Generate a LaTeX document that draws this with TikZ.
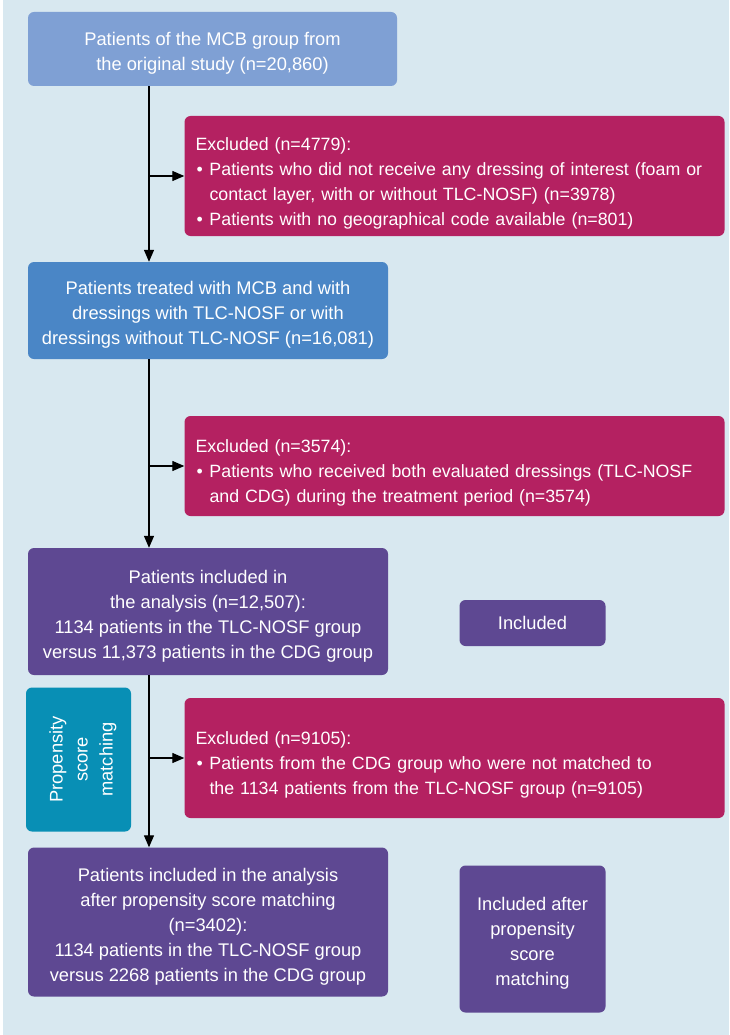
\documentclass[tikz,border=0pt]{standalone}
\usepackage{fontspec}
\setmainfont{Liberation Sans}
\usetikzlibrary{calc,shapes,arrows.meta}
\definecolor{PageBlue}{RGB}{216,232,240}
\definecolor{StartBlue}{RGB}{127,160,212}
\definecolor{MidBlue}{RGB}{74,134,198}
\definecolor{ExclRed}{RGB}{180,33,97}
\definecolor{InclPurple}{RGB}{94,72,146}
\definecolor{MatchTeal}{RGB}{8,143,181}
\newcommand{\bul}{\makebox[15pt][l]{\hspace{2pt}\textbullet}}
\newcommand{\topgap}[1]{\rule{0pt}{#1}}

\begin{document}
\begin{tikzpicture}[x=1pt,y=-1pt]
				\tikzstyle{box} = [rectangle, rounded corners=6pt, text=white, align=center, inner sep=0pt, font=\fontsize{18.3}{25}\selectfont]
				\tikzstyle{flow} = [box, minimum width=360pt]
				\tikzstyle{excluded} = [box, fill=ExclRed, align=left, text width=520pt, inner xsep=10pt, minimum width=539pt, font=\fontsize{17.8}{25}\selectfont]
				\tikzstyle{side} = [box, fill=InclPurple, minimum width=146pt]
				\tikzstyle{arrow} = [line width=1.3pt, -{Stealth[length=12pt,width=10pt,inset=0pt]}]
				
				\useasboundingbox (0,0) rectangle (729,1035);
				\fill[PageBlue] (3,0) rectangle (729,1035);
				
				\node (original) [flow, fill=StartBlue, minimum width=369pt, minimum height=74pt] at (212.5,49) {\topgap{22pt}Patients of the MCB group from\\the original study (n=20,860)};
				\node (exclone) [excluded, minimum height=120pt] at (454.5,176) {\topgap{27pt}\hspace*{1pt}Excluded (n=4779):\\\bul Patients who did not receive any dressing of interest (foam or\\\hspace*{15pt}contact layer, with or without TLC-NOSF) (n=3978)\\\bul Patients with no geographical code available (n=801)};
				\node (treated) [flow, fill=MidBlue, minimum height=97pt] at (208,310.5) {\topgap{22pt}Patients treated with MCB and with\\dressings with TLC-NOSF or with\\dressings without TLC-NOSF (n=16,081)};
				\node (excltwo) [excluded, minimum height=100pt] at (454.5,466) {\topgap{27pt}\hspace*{1pt}Excluded (n=3574):\\\bul Patients who received both evaluated dressings (TLC-NOSF\\\hspace*{15pt}and CDG) during the treatment period (n=3574)};
				\node (analysis) [flow, fill=InclPurple, minimum height=127pt] at (208,611.5) {\topgap{22pt}Patients included in\\the analysis (n=12,507):\\1134 patients in the TLC-NOSF group\\versus 11,373 patients in the CDG group};
				\node (included) [side, minimum height=46pt] at (532.5,623) {Included};
				\node (psm) [box, fill=MatchTeal, rotate=90, minimum width=144pt, minimum height=105pt] at (78.5,759.5) {\topgap{22pt}Propensity\\score\\matching};
				\node (exclthree) [excluded, minimum height=120pt] at (454.5,758) {\topgap{27pt}\hspace*{1pt}Excluded (n=9105):\\\bul Patients from the CDG group who were not matched to\\\hspace*{15pt}the 1134 patients from the TLC-NOSF group (n=9105)};
				\node (matched) [flow, fill=InclPurple, minimum height=149pt] at (208,922) {\topgap{22pt}Patients included in the analysis\\after propensity score matching\\(n=3402):\\1134 patients in the TLC-NOSF group\\versus 2268 patients in the CDG group};
				\node (includedpsm) [side, minimum height=147pt] at (532.5,939) {\topgap{22pt}Included after\\propensity\\score\\matching};
				
				\coordinate (spine) at (149,0);
				\draw [arrow] (original.south -| spine) -- (treated.north -| spine);
				\draw [arrow] (treated.south -| spine) -- (analysis.north -| spine);
				\draw [arrow] (analysis.south -| spine) -- (matched.north -| spine);
				\draw [arrow] (exclone.west -| spine) -- (exclone.west);
				\draw [arrow] (excltwo.west -| spine) -- (excltwo.west);
				\draw [arrow] (exclthree.west -| spine) -- (exclthree.west);
			\end{tikzpicture}
\end{document}
